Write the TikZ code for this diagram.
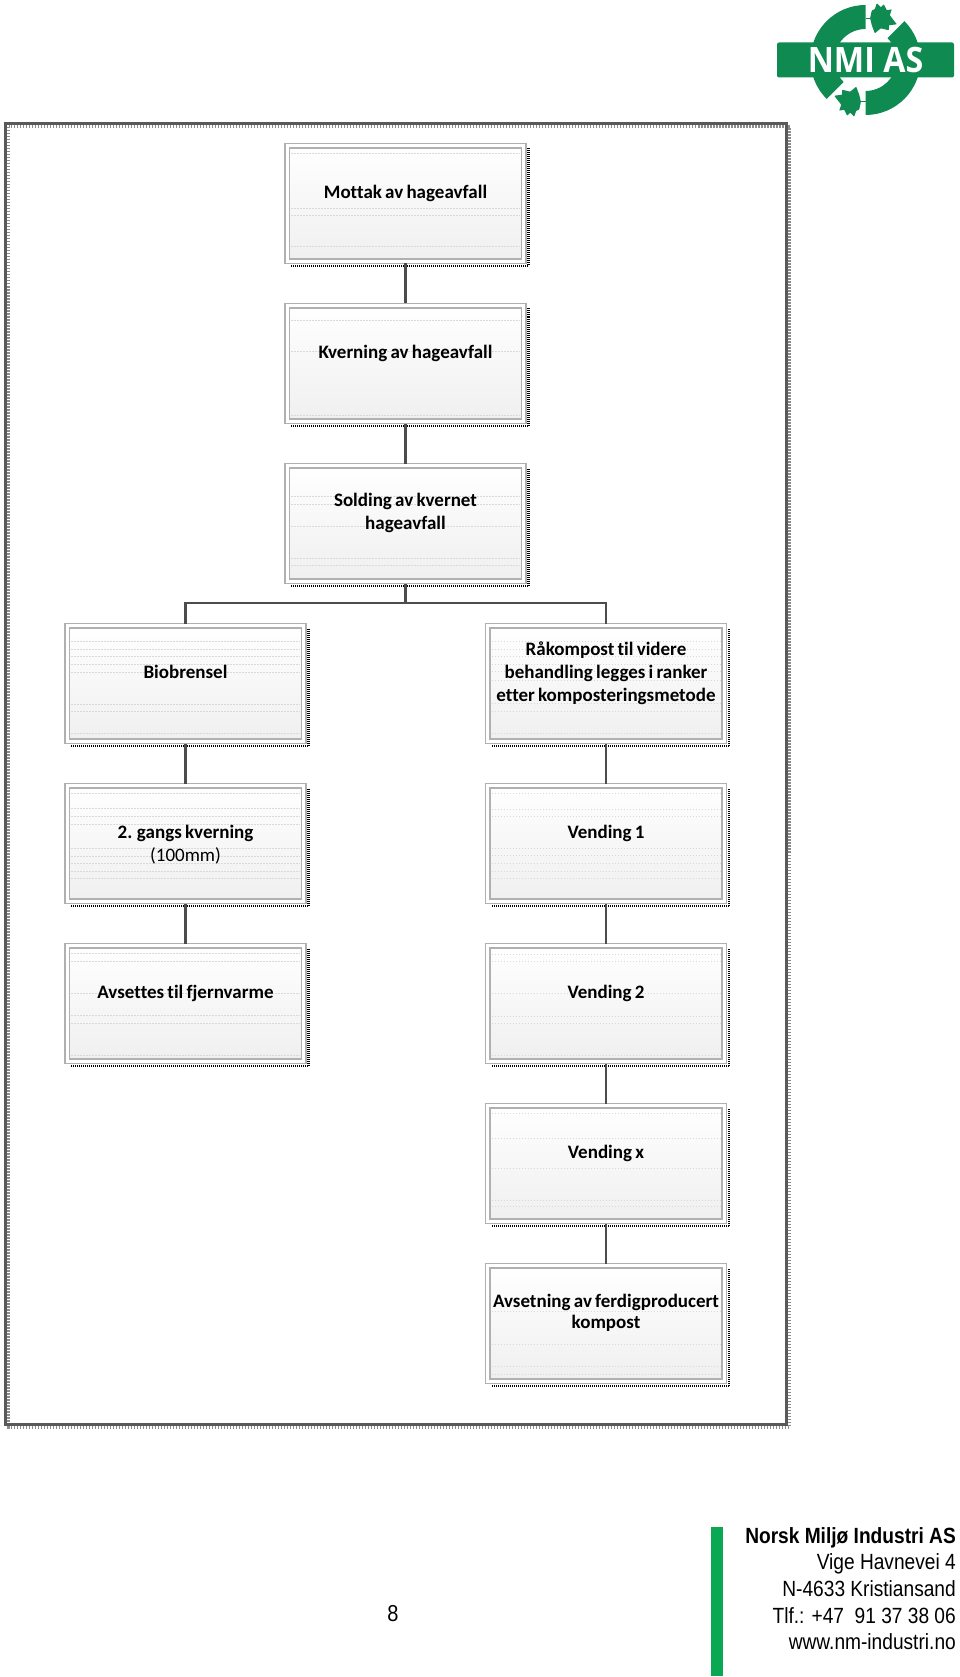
\documentclass[tikz,border=0pt]{standalone}
\usepackage{fontspec}
\setmainfont[Ligatures=NoCommon,WordSpace=0.75]{Carlito}
\newfontfamily\footerfont[FakeStretch=0.87]{Liberation Sans}
\newfontfamily\logofont[FakeStretch=0.92]{Open Sans}
\usetikzlibrary{calc}

\definecolor{nmigreen}{HTML}{0F8A50}
\definecolor{bargreen}{HTML}{0BA853}
\definecolor{boxline}{HTML}{B0B0B0}
\definecolor{boxgrey}{HTML}{EFEFEF}
\definecolor{linkgrey}{HTML}{4C4C4C}

% box text sits a little above the middle of the box
\newcommand{\boxtext}[2][5.5pt]{\raisebox{#1}[0pt][0pt]{\begin{tabular}{@{}c@{}}#2\end{tabular}}}

\tikzset{
  flowbox/.style={
    draw=boxline, line width=1.2pt, fill=white, outer sep=0pt, inner sep=0pt,
    minimum width=241pt, minimum height=120pt,
    font=\fontsize{19}{23}\selectfont\bfseries,
    path picture={
      \shade[top color=white,bottom color=boxgrey,draw=boxline,line width=1.2pt]
        ($(path picture bounding box.north west)+(4.5,4.5)$) rectangle
        ($(path picture bounding box.south east)+(-4.5,-4.5)$);
      \foreach \d in {#1}
        \draw[boxdots] ($(path picture bounding box.north west)+(6,\d)$) --
          ($(path picture bounding box.north east)+(-6,\d)$);
    }
  },
  boxdots/.style={black!15, line width=0.6pt, dash pattern=on 1.5pt off 1.5pt},
  boxshadow/.style={black, line width=2.8pt, dash pattern=on 1pt off 1pt},
  link/.style={linkgrey, line width=2.4pt},
  footertext/.style={font=\footerfont\fontsize{22}{26.7}\selectfont, text=black, inner sep=0pt, align=right}
}

\begin{document}
\begin{tikzpicture}[x=1pt,y=-1pt]
  \useasboundingbox (0,0) rectangle (960,1677);

  % outer frame
  \draw[black!45, line width=3pt, dash pattern=on 1.5pt off 1.5pt] (8.5,127) rectangle (789.5,1427);
  \draw[black!65, line width=3pt] (5.5,124) rectangle (786.5,1424);

  % middle column
  \node[flowbox={10,65,72,103}] (mottak) at (405.5,203.5) {\boxtext{Mottak av hageavfall}};
  \node[flowbox={17,48,112}] (kverning) at (405.5,363.5) {\boxtext{Kverning av hageavfall}};
  \node[flowbox={33,41,63,95,102}] (solding) at (405.5,523.5) {\boxtext{Solding av kvernet\\hageavfall}};

  % left column
  \node[flowbox={18,26,33,41,49,81,88,110}] (biobrensel) at (185.5,683.5) {\boxtext{Biobrensel}};
  \node[flowbox={10,25,33,41,65,73,80,88,95}] (gangs) at (185.5,843.5) {\boxtext[-6pt]{2. gangs kverning\\\normalfont (100mm)}};
  \node[flowbox={10,18,50,72,80,112}] (avsettes) at (185.5,1003.5) {\boxtext{Avsettes til fjernvarme}};

  % right column
  \node[flowbox={18,26,33,41,48,57,80,88,110}] (rakompost) at (606,683.5) {\boxtext{Råkompost til videre\\behandling legges i ranker\\etter komposteringsmetode}};
  \node[flowbox={10,26,33,65,72,80,88,95}] (vending1) at (606,843.5) {\boxtext{Vending 1}};
  \node[flowbox={11,18,50,73,80,112}] (vending2) at (606,1003.5) {\boxtext{Vending 2}};
  \node[flowbox={10,35,65,97,103}] (vendingx) at (606,1163.5) {\boxtext{Vending x}};
  \node[flowbox={48,81,103,111}] (avsetning) at (606,1323.5) {\boxtext{Avsetning av ferdigproducert\\[-2pt]kompost}};

  % dotted shadow along right and bottom edges
  \foreach \n in {mottak,kverning,solding,biobrensel,gangs,avsettes,rakompost,vending1,vending2,vendingx,avsetning}
    \draw[boxshadow] ($(\n.north east)+(2.5,5)$) -- ($(\n.south east)+(2.5,2.5)$) -- ($(\n.south west)+(6,2.5)$);

  % connectors
  \coordinate (fork) at (405.5,603);
  \draw[link] (mottak) -- (kverning);
  \draw[link] (kverning) -- (solding);
  \draw[link] (solding.south) -- (fork);
  \draw[link] (biobrensel.north) |- (fork) -| (rakompost.north);
  \draw[link] (biobrensel) -- (gangs);
  \draw[link] (gangs) -- (avsettes);
  \draw[link] (rakompost) -- (vending1);
  \draw[link] (vending1) -- (vending2);
  \draw[link] (vending2) -- (vendingx);
  \draw[link] (vendingx) -- (avsetning);

  % logo
  \begin{scope}[shift={(865.5,60)},x=1pt,y=1pt]
    \fill[nmigreen,rounded corners=2pt] (-88.5,-17.5) rectangle (88.5,17.5);
    \foreach \rot in {0,180} {
      \begin{scope}[rotate=\rot]
        \fill[nmigreen] (90:55) arc[start angle=90,end angle=225,radius=55]
          -- (225:31) arc[start angle=225,end angle=90,radius=31] -- cycle;
        \draw[nmigreen,line width=1.5pt] (0,41.7) -- (6,41.7);
        \fill[nmigreen,rounded corners=0.6pt,shift={(16.3,41.7)}] (-11.7,0) -- (-10,8) -- (-7,9) -- (-5,15)
          -- (-1,11) -- (2,14) -- (5,8) -- (10,9) -- (8,3) -- (15,-6) -- (7,-7) -- (7,-12)
          -- (-1,-10) -- (-7,-15) -- (-10,-7) -- cycle;
      \end{scope}
    }
    \node[text=white,inner sep=0pt,font=\logofont\bfseries\fontsize{35}{35}\selectfont] (logotext) at (0,0) {NMI AS};
  \end{scope}

  % footer
  \fill[bargreen] (711,1527) rectangle (723,1676);
  \node[font=\footerfont\fontsize{23}{25}\selectfont,inner sep=0pt] (pagenr) at (393,1614) {8};
  \node[footertext,anchor=north east] (adresse) at (956,1527) {\bfseries Norsk Miljø Industri AS\\Vige Havnevei 4\\N-4633 Kristiansand\\Tlf.: +47\ \ 91 37 38 06\\www.nm-industri.no};
\end{tikzpicture}
\end{document}
